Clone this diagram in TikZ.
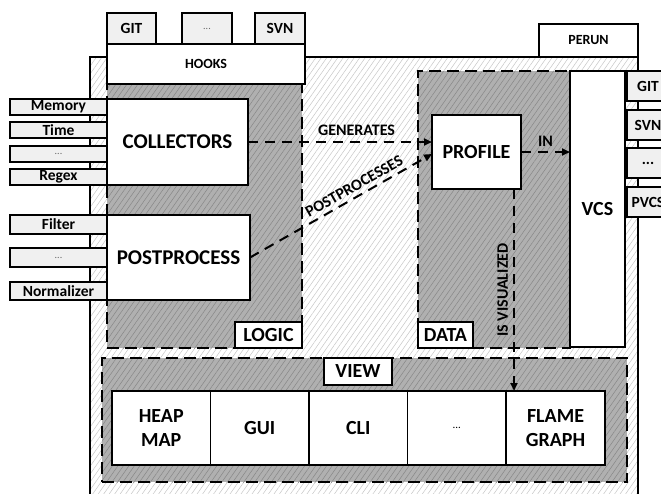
\documentclass[tikz,border=0pt]{standalone}
\usepackage{fontspec}
\setmainfont{Carlito}
\usetikzlibrary{patterns.meta,arrows.meta,calc}
\begin{document}
\begin{tikzpicture}[x=1pt,y=-1pt,
  every node/.style={inner sep=0pt, outer sep=0pt},
  R/.style args={#1/#2/#3/#4}{minimum width={(#3)-(#1)}, minimum height={(#4)-(#2)}, at={({((#1)+(#3))/2},{((#2)+(#4))/2})}},
  hatchlight/.style={preaction={fill=white}, pattern={Lines[angle=55,distance=4.5pt,line width=0.5pt]}, pattern color=black!22},
  hatchdark/.style={preaction={fill=black!31}, pattern={Lines[angle=55,distance=4.5pt,line width=0.5pt]}, pattern color=black!47},
  region/.style={draw, line width=2.4pt, dash pattern=on 12pt off 6pt, hatchdark},
  box/.style={draw, line width=1.8pt, fill=white, font=\fontsize{20}{24}\selectfont\bfseries, align=center},
  bigbox/.style={box, font=\fontsize{21}{24}\selectfont\bfseries},
  smallbox/.style={box, font=\fontsize{14}{16}\selectfont\bfseries},
  tab/.style={draw, line width=1.8pt, fill=black!6, font=\fontsize{15.5}{18}\selectfont\bfseries},
  tabdots/.style={tab, font=\fontsize{10}{12}\selectfont, text=black!60},
  flow/.style={line width=2pt, dash pattern=on 10pt off 7pt, -{Triangle[length=8pt,width=7pt]}},
  flowlabel/.style={font=\fontsize{16}{18}\selectfont\bfseries}
]
\path[use as bounding box] (0,0) rectangle (661,493);
\clip (0,0) rectangle (661,493);

% outer PERUN area
\node[draw, line width=1.8pt, hatchlight, R=90/57/638/510] (perunarea) {};
\node[smallbox, R=539/24/638/57] (perun) {PERUN};

% regions
\node[region, R=107/84/302/348] (logicarea) {};
\node[region, R=418/71/570/348] (dataarea) {};
\node[region, R=102/358/627/482] (viewarea) {};

% hooks
\node[tab, R=107/13/156/44] (hgit) {GIT};
\node[tabdots, R=182/13/232/44] (hdots) {...};
\node[tab, R=255/13/305/44] (hsvn) {SVN};
\node[smallbox, R=107/44/305/84] (hooks) {HOOKS};

% logic
\node[bigbox, R=107/99/248/185] (collectors) {COLLECTORS};
\node[bigbox, R=107/215/250/300] (postprocess) {POSTPROCESS};
\node[box, R=235/322/302/348] (logic) {LOGIC};

\node[tab, R=10/99/107/115] (memory) {Memory};
\node[tab, R=10/122/107/138] (time) {Time};
\node[tabdots, R=10/146/107/162] (cdots) {...};
\node[tab, R=10/169/107/185] (regex) {Regex};
\node[tab, R=10/215/107/234] (filter) {Filter};
\node[tabdots, R=10/248/107/267] (pdots) {...};
\node[tab, R=10/282/107/300] (normalizer) {Normalizer};

% data
\node[box, R=432/115/521/189] (profile) {PROFILE};
\node[box, R=418/322/473/348] (data) {DATA};

% vcs
\node[box, R=570/71/625/347] (vcs) {VCS};
\node[tab, R=627/71/669/101] (vgit) {GIT};
\node[tab, R=627/110/669/140] (vsvn) {SVN};
\node[tab, R=627/148/669/178] (vdots) {...};
\node[tab, R=627/187/669/217] (vpvcs) {PVCS};

% view
\node[box, R=324/358/392/385] (view) {VIEW};
\node[box, R=112/391/210.5/465] (heap) {HEAP\\MAP};
\node[box, R=210.5/391/309/465] (gui) {GUI};
\node[box, R=309/391/407.5/465] (cli) {CLI};
\node[box, R=407.5/391/506/465, font=\fontsize{11}{12}\selectfont] (vwdots) {...};
\node[box, R=506/391/605/465] (flame) {FLAME\\GRAPH};

% connectors
\draw[flow] (collectors.east) -- node[flowlabel, pos=0.59, above=6pt] {GENERATES} (collectors.east -| profile.west);
\draw[flow] (postprocess.east) -- node[flowlabel, pos=0.6, sloped, above=5pt] {POSTPROCESSES} ($(profile.west)+(0,2)$);
\draw[flow] (profile.east) -- node[flowlabel, midway, above=6pt] {IN} (profile.east -| vcs.west);
\coordinate (visfrom) at ($(profile.south east)+(-7,0)$);
\draw[flow] (visfrom) -- node[flowlabel, pos=0.5, rotate=90, above=6pt] {IS VISUALIZED} (visfrom |- flame.north);
\end{tikzpicture}
\end{document}
